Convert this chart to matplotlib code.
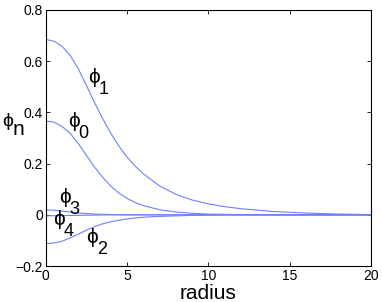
import numpy as np
import matplotlib
matplotlib.use("Agg")
import matplotlib.pyplot as plt

plt.rcParams['font.family'] = ['Liberation Sans', 'DejaVu Sans']

# values
radius = [0, 0.5, 1, 1.5, 2, 2.5, 3, 3.5, 4, 4.5, 5, 5.5, 6, 7, 8, 9, 10, 11, 12, 14, 16, 18, 20]
phi0 = [0.366, 0.362, 0.345, 0.318, 0.278, 0.232, 0.186, 0.146, 0.112, 0.085, 0.064, 0.048,
        0.036, 0.020, 0.011, 0.006, 0.003, 0.002, 0.001, 0.0, 0.0, 0.0, 0.0]
phi1 = [0.685, 0.678, 0.658, 0.622, 0.570, 0.505, 0.438, 0.375, 0.318, 0.268, 0.225, 0.190,
        0.160, 0.113, 0.080, 0.058, 0.043, 0.032, 0.024, 0.013, 0.007, 0.003, 0.001]
phi2 = [-0.112, -0.110, -0.103, -0.090, -0.075, -0.060, -0.046, -0.035, -0.027, -0.021, -0.016,
        -0.012, -0.009, -0.006, -0.004, -0.002, -0.001, 0.0, 0.0, 0.0, 0.0, 0.0, 0.0]
phi3 = [0.019, 0.018, 0.015, 0.011, 0.007, 0.005, 0.003, 0.002, 0.001, 0.0, 0.0, 0.0,
        0.0, 0.0, 0.0, 0.0, 0.0, 0.0, 0.0, 0.0, 0.0, 0.0, 0.0]
phi4 = [-0.004, -0.0035, -0.003, -0.0025, -0.002, -0.0015, -0.001, -0.0005, 0.0, 0.0, 0.0, 0.0,
        0.0, 0.0, 0.0, 0.0, 0.0, 0.0, 0.0, 0.0, 0.0, 0.0, 0.0]

xticks = [0, 5, 10, 15, 20]
yticks = [-0.2, 0, 0.2, 0.4, 0.6, 0.8]
ytick_labels = ['\u22120.2', '0', '0.2', '0.4', '0.6', '0.8']

fig = plt.figure(figsize=(3.82, 3.02), dpi=100)
ax = fig.add_axes([0.120, 0.119, 0.851, 0.848])

line_color = '#6f80ff'
for ys in (phi0, phi1, phi2, phi3, phi4):
    ax.plot(radius, ys, color=line_color, linewidth=0.8)

ax.set_xlim(0, 20)
ax.set_ylim(-0.2, 0.8)
ax.set_xticks(xticks)
ax.set_xticklabels([str(t) for t in xticks])
ax.set_yticks(yticks)
ax.set_yticklabels(ytick_labels)
ax.tick_params(direction='in', top=True, right=True, labelsize=10, length=3, width=0.6, pad=2)
for s in ax.spines.values():
    s.set_linewidth(0.8)

ax.set_xlabel('radius', fontsize=15, labelpad=1)

# y label: phi with a full size, lowered n
ax.text(-0.135, 0.547, '\u03d5', fontsize=14, va='baseline', ha='left',
        transform=ax.transAxes)
ax.text(-0.103, 0.513, 'n', fontsize=15, va='baseline', ha='left',
        transform=ax.transAxes)


def phi_label(x, y, sub):
    # upright phi with a big, low subscript like the original
    ax.text(x, y, '\u03d5', fontsize=15, va='baseline', ha='left')
    ax.annotate(sub, (x, y), xytext=(7.5, -8), textcoords='offset points',
                fontsize=13, va='baseline', ha='left')


phi_label(2.6, 0.515, '1')
phi_label(1.35, 0.343, '0')
phi_label(0.8, 0.047, '3')
phi_label(0.43, -0.039, '4')
phi_label(2.5, -0.109, '2')

fig.savefig('out.png', dpi=100)
